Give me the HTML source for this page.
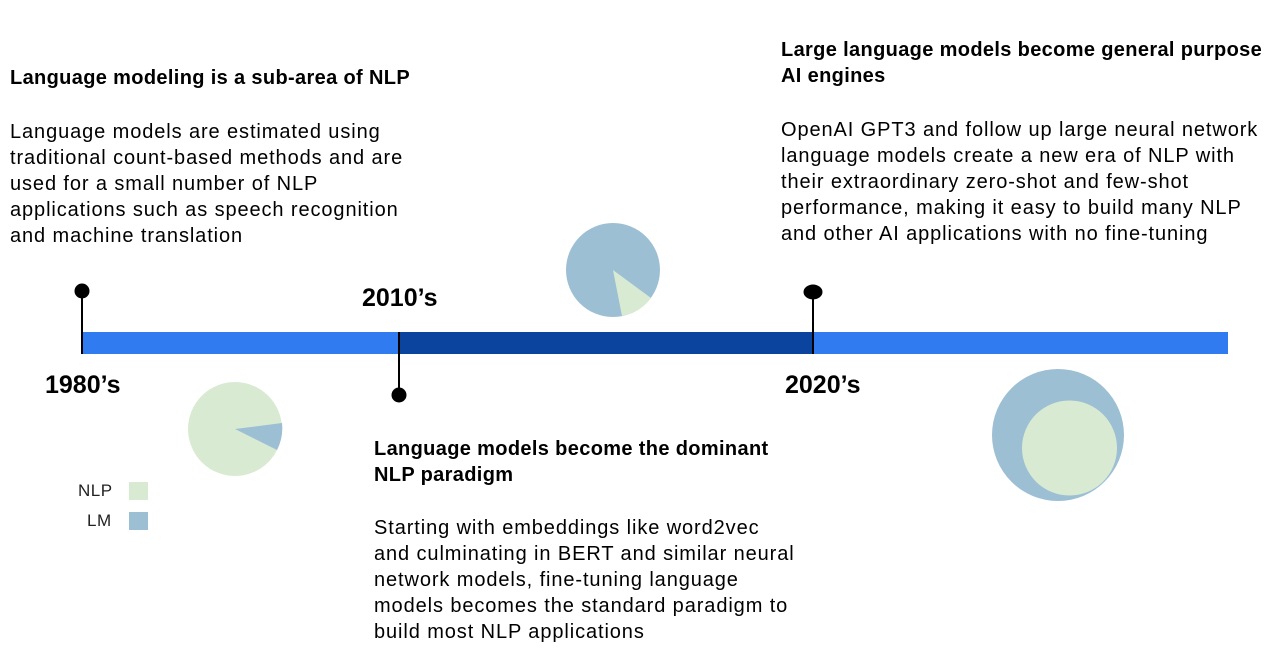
<!DOCTYPE html>
<html><head><meta charset="utf-8"><style>
body{margin:0;width:1285px;height:661px;background:#fff;position:relative;overflow:hidden;font-family:"Liberation Sans",sans-serif;color:#000}
.t{position:absolute;font-size:20px;line-height:26px;white-space:nowrap;letter-spacing:0.9px}
.b{font-weight:bold;letter-spacing:0.35px}
.y{position:absolute;font-size:25px;font-weight:bold}
</style></head><body>
<svg width="1285" height="661" style="position:absolute;left:0;top:0">
<rect x="82" y="332" width="1146" height="22" fill="#317bf0"/>
<rect x="399" y="332" width="413" height="22" fill="#0a449e"/>
<line x1="82" y1="292" x2="82" y2="354" stroke="#000" stroke-width="2"/>
<circle cx="82" cy="291" r="7.5"/>
<line x1="399" y1="332" x2="399" y2="395" stroke="#000" stroke-width="2"/>
<circle cx="399" cy="395" r="7.5"/>
<line x1="813" y1="292" x2="813" y2="354" stroke="#000" stroke-width="2"/>
<ellipse cx="813" cy="292" rx="9.5" ry="7.5"/>
<circle cx="235" cy="429" r="47" fill="#d9ead3"/>
<path d="M235 429 L282 423 A47 47 0 0 1 277 450 Z" fill="#9dbfd4"/>
<circle cx="613" cy="270" r="47" fill="#9dbfd4"/>
<path d="M613 270 L651 298 A47 47 0 0 1 622 316 Z" fill="#d9ead3"/>
<circle cx="1058" cy="435" r="66" fill="#9dbfd4"/>
<circle cx="1069.5" cy="448" r="47.5" fill="#d9ead3"/>
<rect x="129" y="482" width="19" height="18" fill="#d9ead3"/>
<rect x="129" y="512" width="19" height="18" fill="#9dbfd4"/>
</svg>
<div class="t" style="left:78px;top:478px;font-size:17px;color:#222;letter-spacing:0.5px">NLP</div>
<div class="t" style="left:87px;top:508px;font-size:17px;color:#222;letter-spacing:0.5px">LM</div>
<div class="y" style="left:45px;top:371px">1980’s</div>
<div class="y" style="left:362px;top:284px">2010’s</div>
<div class="y" style="left:785px;top:371px">2020’s</div>
<div class="t b" style="left:10px;top:65px">Language modeling is a sub-area of NLP</div>
<div class="t" style="left:10px;top:119px">Language models are estimated using<br>traditional count-based methods and are<br>used for a small number of NLP<br>applications such as speech recognition<br>and machine translation</div>
<div class="t b" style="left:781px;top:37px">Large language models become general purpose<br>AI engines</div>
<div class="t" style="left:781px;top:117px">OpenAI GPT3 and follow up large neural network<br>language models create a new era of NLP with<br>their extraordinary zero-shot and few-shot<br>performance, making it easy to build many NLP<br>and other AI applications with no fine-tuning</div>
<div class="t b" style="left:374px;top:436px">Language models become the dominant<br>NLP paradigm</div>
<div class="t" style="left:374px;top:515px">Starting with embeddings like word2vec<br>and culminating in BERT and similar neural<br>network models, fine-tuning language<br>models becomes the standard paradigm to<br>build most NLP applications</div>
</body></html>
